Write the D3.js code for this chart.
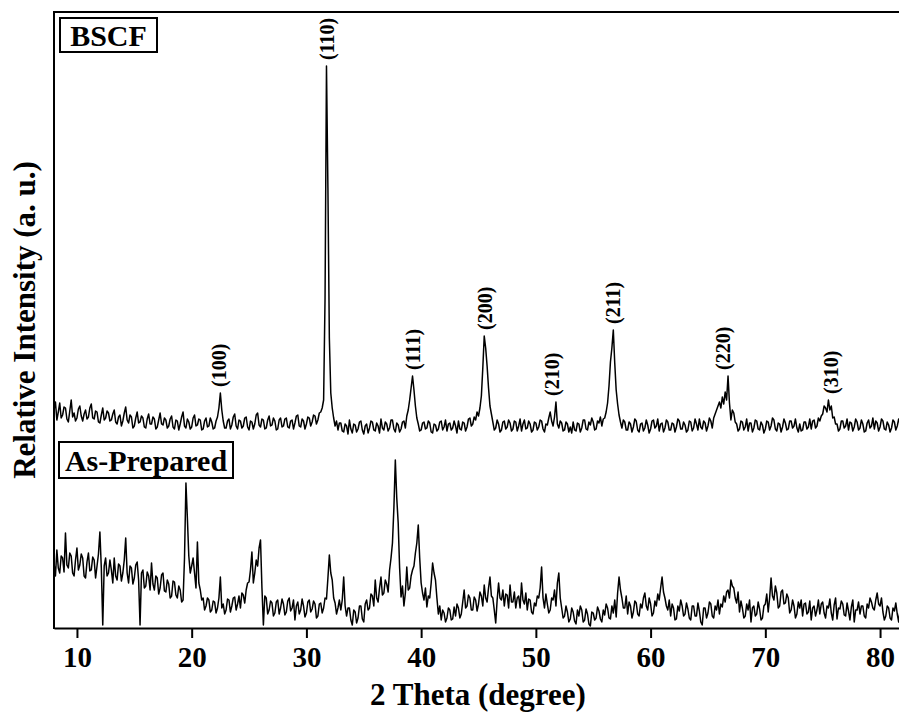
<!DOCTYPE html>
<html>
<head>
<meta charset="utf-8">
<script src="https://cdn.jsdelivr.net/npm/d3@7"></script>
<style>
  html, body { margin: 0; padding: 0; background: #fff; }
  svg { display: block; }
  text { font-family: "Liberation Serif", "Times New Roman", serif; font-weight: bold; fill: #000; }
</style>
</head>
<body>
<script>
// ---------------- DATA ----------------
// 2-theta sampling grid (degrees), 8.000 .. 82.000 in 0.125 steps
const twoTheta = d3.range(0, 593).map(i => 8 + i * 0.125);

// BSCF pattern (relative intensity, a.u.)
const bscf = [
  38,46,28,36,45,30,33,41,40,29,26,37,48,31,35,27,30,39,42,32,27,34,38,29,31,40,44,30,29,37,36,26,25,33,40,28,30,37,35,27,
  28,34,38,26,24,31,33,22,27,35,41,28,25,33,31,20,22,30,36,25,26,32,30,21,20,29,34,24,24,31,29,19,21,28,35,24,23,30,28,20,
  22,29,32,21,19,28,27,18,24,31,36,22,20,29,26,19,21,30,33,22,23,29,28,18,19,27,30,21,22,30,26,19,20,27,31,40,55,38,27,20,
  20,27,29,19,23,31,34,22,19,28,27,20,22,30,31,21,18,27,26,19,24,33,35,23,21,29,28,19,20,28,32,22,23,30,27,18,19,28,30,21,
  22,29,30,21,20,27,28,19,25,32,33,22,21,29,27,19,24,31,30,22,26,33,32,24,28,35,36,40,48,150,382,260,110,55,40,30,22,27,18,25,
  25,17,16,24,22,14,28,19,15,24,23,16,19,26,27,18,14,22,24,15,20,27,26,18,17,25,22,15,29,20,18,26,24,17,20,28,28,19,16,25,
  23,16,19,26,27,20,32,38,48,60,72,58,42,30,24,17,18,25,26,19,20,27,25,16,15,24,23,17,19,26,27,18,21,28,17,24,25,18,20,27,
  22,15,27,19,18,26,25,17,21,29,30,22,24,31,28,36,32,40,52,80,112,100,82,60,42,34,26,18,20,28,24,16,18,26,27,19,21,28,25,17,
  19,27,26,17,22,29,17,24,28,19,20,27,24,16,18,26,25,18,21,28,27,19,16,24,23,30,36,27,22,31,46,24,20,27,25,17,18,26,24,16,
  21,15,26,18,17,25,24,16,20,28,28,19,18,26,23,30,26,18,19,27,25,31,22,29,30,36,45,62,86,100,118,85,58,44,33,26,20,28,26,18,
  18,26,24,16,21,29,27,18,16,24,25,17,20,28,23,15,19,27,28,20,22,29,17,24,25,16,20,28,26,18,18,25,24,16,21,29,27,19,19,26,
  23,16,18,27,26,17,20,29,24,18,29,21,19,27,25,17,22,30,27,20,30,34,38,42,46,40,51,44,56,48,72,45,28,38,35,26,24,17,19,27,
  26,18,21,29,17,25,25,16,20,28,27,19,18,26,23,15,19,27,26,18,22,30,28,19,17,25,24,16,21,29,25,18,19,27,27,20,22,29,20,16,
  24,17,18,26,26,19,21,29,19,27,28,20,22,30,27,32,34,42,40,36,48,38,42,30,31,24,24,17,19,27,27,20,22,29,18,26,25,17,21,29,
  26,18,20,28,24,16,17,25,28,20,22,30,19,27,25,17,21,29,27,19,18,26,23,16,20,28,26,18,22,29,24,17,21
];

// As-Prepared pattern (relative intensity, a.u.)
const asPrepared = [
  65,52,78,60,55,72,70,56,95,63,60,75,72,55,52,68,80,58,63,74,70,52,50,66,75,57,58,71,68,50,62,74,96,60,3,62,70,52,55,68,
  58,45,70,52,48,64,62,47,55,68,90,55,45,62,60,44,50,63,66,48,3,55,58,40,42,56,52,38,65,44,38,52,50,34,40,53,55,37,36,48,
  44,30,32,47,46,33,30,42,38,26,28,70,145,110,72,55,62,70,55,40,86,45,38,28,30,18,22,30,28,16,18,27,26,15,20,30,51,20,24,14,
  18,29,28,16,22,30,31,18,24,32,20,35,33,25,38,45,46,58,76,45,55,68,62,80,88,40,3,32,30,14,18,27,25,12,15,26,28,14,20,29,
  24,13,16,27,30,17,20,28,8,22,26,14,18,29,22,11,15,26,28,16,19,27,24,10,12,24,25,15,20,30,29,50,73,55,48,30,25,14,20,28,
  18,28,51,22,12,20,20,8,3,18,16,5,10,22,22,9,6,24,28,18,20,34,32,22,48,30,26,40,51,33,35,48,44,36,58,70,85,120,168,130,
  105,60,31,42,22,35,61,38,40,52,58,62,75,85,103,70,45,35,28,40,21,32,30,45,65,55,48,30,14,22,8,18,15,6,10,20,18,8,9,21,
  12,24,20,10,14,26,38,20,22,33,30,18,18,31,28,17,24,36,32,22,43,30,26,40,51,32,30,18,5,28,45,30,28,38,22,34,33,20,43,26,
  26,36,20,30,32,20,45,28,24,35,18,29,28,16,14,25,22,32,30,40,61,30,20,34,24,15,18,30,28,38,22,45,55,30,20,10,12,22,16,6,
  9,20,16,7,4,18,12,22,18,6,8,19,14,4,2,16,15,8,10,21,17,9,6,18,13,24,20,10,9,22,15,28,11,35,51,38,30,20,20,32,
  14,26,22,10,16,27,25,14,12,24,20,30,35,22,18,30,24,12,15,27,22,34,28,40,51,36,30,22,18,28,12,24,20,8,9,22,17,28,22,12,
  14,25,19,10,8,22,22,12,12,25,17,6,3,20,20,10,15,26,24,12,10,22,18,28,14,24,21,32,26,36,38,30,48,42,40,30,25,36,16,27,
  20,10,12,24,18,28,6,20,22,12,14,26,19,8,10,22,24,34,16,30,50,32,28,42,35,20,22,36,38,24,25,34,30,15,18,28,22,10,14,26,
  20,28,12,24,25,14,16,27,8,20,22,12,18,28,14,24,26,15,10,22,20,29,15,8,23,30,9,20,19,27,24,13,12,25,17,8,21,28,6,18,
  18,26,14,22,22,12,10,24,20,30,26,20,18,28,35,24,22,30,16,8,12,22,20,10,8,20,17,25,14,6,19,24,11
];

// vertical stacking offset of the BSCF trace (a.u.)
const bscfOffset = 180;

// Miller-index labels of the BSCF reflections and their 2-theta positions
const hklLabels = ["(100)","(110)","(111)","(200)","(210)","(211)","(220)","(310)"];
const hklPositions = [22.4, 31.8, 39.3, 45.6, 51.4, 56.7, 66.3, 75.7];

const xTickValues = [10, 20, 30, 40, 50, 60, 70, 80];
const seriesNames = ["BSCF", "As-Prepared"];

// ---------------- CHART ----------------
const W = 899, H = 713;
const m = { left: 54, top: 12, right: 903, bottom: 628 };

const svg = d3.select("body").append("svg").attr("width", W).attr("height", H);

const x = d3.scaleLinear().domain([8, 82]).range([m.left, m.right]);
const y = d3.scaleLinear().domain([0, 616]).range([m.bottom, m.top]);

svg.append("defs").append("clipPath").attr("id", "clip")
  .append("rect").attr("x", m.left).attr("y", m.top)
  .attr("width", m.right - m.left).attr("height", m.bottom - m.top);

const line = (vals, off) => d3.line()
  .x((d, i) => x(twoTheta[i]))
  .y(d => y(d + off))(vals);

const g = svg.append("g").attr("clip-path", "url(#clip)");
g.append("path").attr("d", line(bscf, bscfOffset))
  .attr("fill", "none").attr("stroke", "#000").attr("stroke-width", 1.5).attr("stroke-linejoin", "round");
g.append("path").attr("d", line(asPrepared, 0))
  .attr("fill", "none").attr("stroke", "#000").attr("stroke-width", 1.5).attr("stroke-linejoin", "round");

// frame: top and left
svg.append("line").attr("x1", m.left).attr("x2", W).attr("y1", m.top).attr("y2", m.top)
  .attr("stroke", "#000").attr("stroke-width", 2);
svg.append("line").attr("x1", m.left).attr("x2", m.left).attr("y1", m.top - 1).attr("y2", m.bottom + 1)
  .attr("stroke", "#000").attr("stroke-width", 2);

// bottom axis
const xAxis = d3.axisBottom(x).tickValues(xTickValues).tickSize(10).tickSizeOuter(0).tickPadding(8);
const ax = svg.append("g").attr("transform", `translate(0,${m.bottom})`).call(xAxis);
ax.select(".domain").attr("stroke", "#000").attr("stroke-width", 2);
ax.selectAll(".tick line").attr("stroke", "#000").attr("stroke-width", 2);
ax.selectAll(".tick text")
  .style("font-family", '"Liberation Serif", "Times New Roman", serif')
  .style("font-weight", "bold").style("font-size", "29px").attr("fill", "#000");

// axis titles
svg.append("text").attr("x", 478).attr("y", 705).attr("text-anchor", "middle")
  .style("font-size", "31px").text("2 Theta (degree)");
svg.append("text").attr("transform", "translate(35,320) rotate(-90)").attr("text-anchor", "middle")
  .style("font-size", "31px").text("Relative Intensity (a. u.)");

// series labels in boxes
function boxLabel(txt, bx, by, bw, bh, fs) {
  svg.append("rect").attr("x", bx).attr("y", by).attr("width", bw).attr("height", bh)
    .attr("fill", "#fff").attr("stroke", "#000").attr("stroke-width", 2);
  svg.append("text").attr("x", bx + bw / 2).attr("y", by + bh / 2).attr("dy", "0.35em")
    .attr("text-anchor", "middle").style("font-size", fs + "px").text(txt);
}
boxLabel(seriesNames[0], 60, 18, 97, 34, 30);
boxLabel(seriesNames[1], 59, 442, 174, 36, 30);

// hkl labels above the BSCF peaks
hklLabels.forEach((lab, k) => {
  const p = hklPositions[k];
  let top = 0;
  twoTheta.forEach((t, i) => { if (Math.abs(t - p) <= 0.5) top = Math.max(top, bscf[i]); });
  const px = x(p), py = y(top + bscfOffset) - 6;
  svg.append("text").attr("transform", `translate(${px},${py}) rotate(-90)`)
    .attr("dy", "0.35em").attr("text-anchor", "start")
    .style("font-size", "20px").text(lab);
});
</script>
</body>
</html>
